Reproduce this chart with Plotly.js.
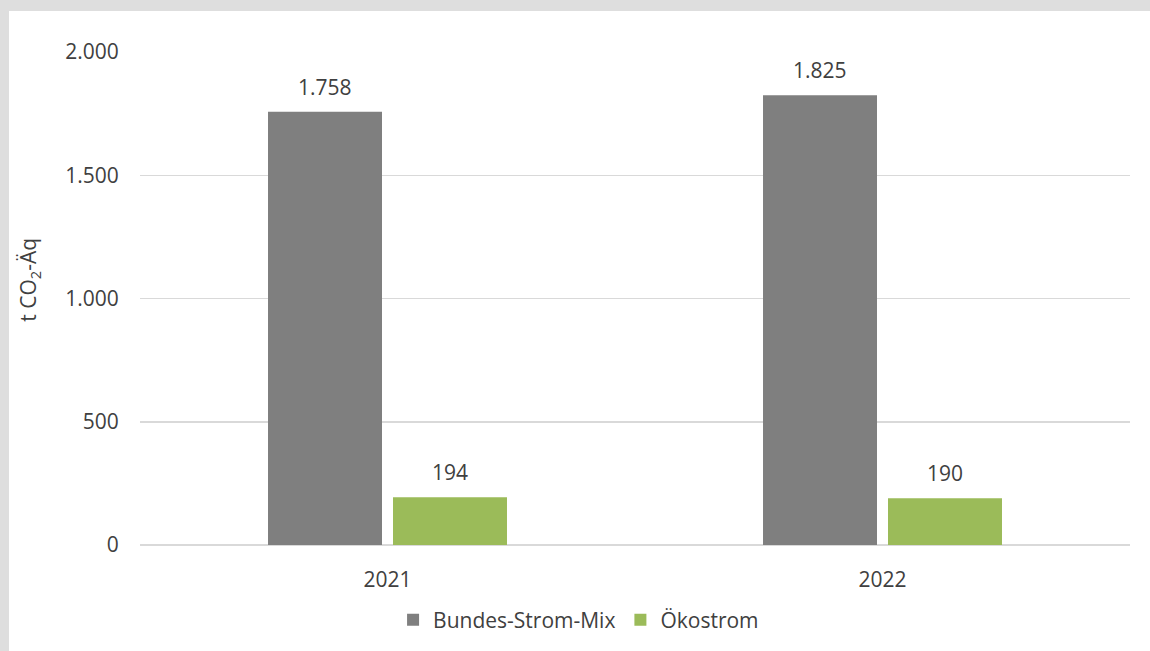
<!DOCTYPE html>
<html>
<head>
<meta charset="utf-8">
<script src="https://cdn.plot.ly/plotly-3.0.1.min.js"></script>
<style>
  html, body { margin: 0; padding: 0; background: #DEDEDE; width: 1150px; height: 651px; overflow: hidden; }
  #chart { position: absolute; left: 9px; top: 11px; width: 1141px; height: 640px; }
</style>
</head>
<body>
<div id="chart"></div>
<script>
const categories = ["2021", "2022"];
const seriesNames = ["Bundes-Strom-Mix", "Ökostrom"];
const bundesStromMix = [1758, 1825];
const oekostrom = [194, 190];
const yTickValues = [0, 500, 1000, 1500, 2000];
const yTitle = "t CO<sub>2</sub>-Äq";

const colors = ["#7F7F7F", "#9BBB59"];
const seriesValues = [bundesStromMix, oekostrom];
const textColor = "#404040";
const fontFamily = "'Open Sans', 'Liberation Sans', sans-serif";
const fs = 21;

const fmt = v => v.toString().replace(/\B(?=(\d{3})+(?!\d))/g, ".");

const traces = seriesValues.map((vals, j) => ({
  type: "bar",
  name: seriesNames[j],
  x: categories,
  y: vals,
  marker: { color: colors[j] },
  hoverinfo: "skip"
}));

const annotations = [];
seriesValues.forEach((vals, j) => {
  vals.forEach((v, i) => {
    annotations.push({
      x: i, y: v, xref: "x", yref: "y",
      xshift: j === 0 ? -62.5 : 62.5, yshift: 25,
      yanchor: "middle", showarrow: false,
      text: fmt(v),
      font: { family: fontFamily, size: fs, color: textColor }
    });
  });
});
annotations.push({
  xref: "paper", yref: "paper", x: 0, y: 0.538, xshift: -111,
  xanchor: "center", yanchor: "middle", textangle: -90, showarrow: false,
  text: yTitle,
  font: { family: fontFamily, size: fs, color: textColor }
});

const layout = {
  width: 1141, height: 640,
  margin: { l: 131, r: 20, t: 41, b: 105 },
  paper_bgcolor: "#FFFFFF",
  plot_bgcolor: "#FFFFFF",
  font: { family: fontFamily, size: fs, color: textColor },
  barmode: "group",
  bargap: 0.495,
  bargroupgap: 0.088,
  showlegend: true,
  legend: {
    orientation: "h", x: 0.443, xanchor: "center", y: -0.15, yanchor: "middle",
    font: { family: fontFamily, size: fs, color: textColor },
    itemclick: false
  },
  xaxis: {
    type: "category",
    range: [-0.5, categories.length - 0.5],
    autorange: false,
    showgrid: false,
    showline: false,
    zeroline: false,
    ticks: "outside", ticklen: 16, tickcolor: "rgba(0,0,0,0)",
    tickfont: { family: fontFamily, size: fs, color: textColor }
  },
  yaxis: {
    range: [0, 2000],
    autorange: false,
    tickvals: yTickValues,
    ticktext: yTickValues.map(fmt),
    showgrid: true, gridcolor: "#D9D9D9", gridwidth: 1.5,
    zeroline: true, zerolinecolor: "#D9D9D9", zerolinewidth: 1.5,
    showline: false,
    ticks: "outside", ticklen: 16, tickcolor: "rgba(0,0,0,0)",
    tickfont: { family: fontFamily, size: fs, color: textColor }
  },
  annotations: annotations
};

Plotly.newPlot("chart", traces, layout, { staticPlot: true, displayModeBar: false });
</script>
</body>
</html>
